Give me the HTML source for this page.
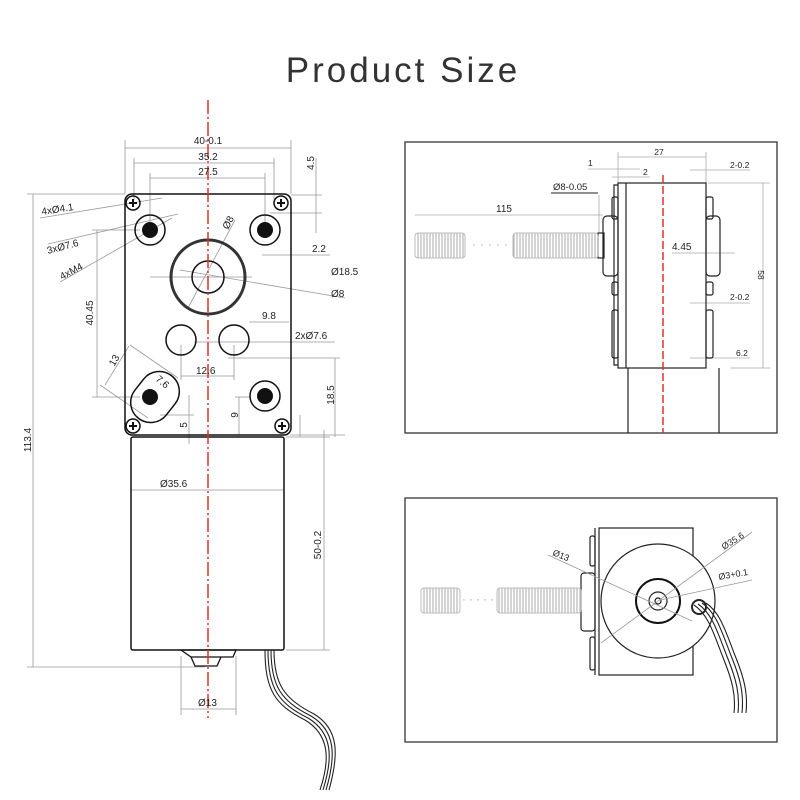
<!DOCTYPE html>
<html><head><meta charset="utf-8"><style>
html,body{margin:0;padding:0;background:#fff}
svg{display:block}
text{font-family:"Liberation Sans",sans-serif;fill:#222}
</style></head><body>
<svg width="800" height="800" viewBox="0 0 800 800" xmlns="http://www.w3.org/2000/svg">
<text x="403" y="82" font-size="35" text-anchor="middle" fill="#333" style="fill:#333;letter-spacing:3px">Product Size</text>

<!-- LEFT DRAWING -->
<g stroke="#999" stroke-width="0.8" fill="none">
  <line x1="125" y1="148" x2="291" y2="148"/><line x1="125" y1="140" x2="125" y2="194"/><line x1="291" y1="140" x2="291" y2="194"/>
  <line x1="134" y1="163" x2="274" y2="163"/><line x1="134" y1="158" x2="134" y2="200"/><line x1="274" y1="158" x2="274" y2="200"/>
  <line x1="150" y1="178" x2="265" y2="178"/><line x1="150" y1="173" x2="150" y2="225"/><line x1="265" y1="173" x2="265" y2="225"/>
  <line x1="33" y1="194" x2="33" y2="667"/><line x1="27" y1="194" x2="125" y2="194"/><line x1="27" y1="667" x2="205" y2="667"/>
  <line x1="97" y1="230" x2="97" y2="397"/><line x1="92" y1="230" x2="140" y2="230"/><line x1="92" y1="397" x2="140" y2="397"/>
  <line x1="316" y1="158" x2="316" y2="233"/><line x1="291" y1="195" x2="322" y2="195"/><line x1="270" y1="213" x2="322" y2="213"/>
  <line x1="262" y1="255" x2="330" y2="255"/>
  <line x1="150" y1="277" x2="252" y2="277"/>
  <line x1="180" y1="270" x2="345" y2="298"/>
  <line x1="188" y1="308" x2="235" y2="220"/>
  <line x1="249" y1="322" x2="289" y2="322"/>
  <line x1="194" y1="342" x2="335" y2="342"/>
  <line x1="181" y1="345" x2="181" y2="380"/><line x1="234" y1="345" x2="234" y2="380"/>
  <line x1="181" y1="376" x2="234" y2="376"/>
  <line x1="228" y1="358" x2="340" y2="358"/>
  <line x1="335" y1="358" x2="335" y2="437"/><line x1="290" y1="435" x2="345" y2="435"/>
  <line x1="239" y1="397" x2="239" y2="435"/><line x1="235" y1="397" x2="250" y2="397"/>
  <line x1="189" y1="395" x2="189" y2="444"/><line x1="160" y1="415" x2="194" y2="415"/>
  <line x1="300" y1="415" x2="300" y2="437"/><line x1="324" y1="430" x2="324" y2="437"/>
  <line x1="130" y1="345" x2="178" y2="378"/><line x1="100" y1="385" x2="148" y2="418"/>
  <line x1="129" y1="346" x2="105" y2="385"/>
  <line x1="40" y1="218" x2="162" y2="198"/>
  <line x1="48" y1="244" x2="178" y2="214"/>
  <line x1="60" y1="282" x2="172" y2="218"/>
  <line x1="132" y1="490" x2="284" y2="490"/>
  <line x1="324" y1="437" x2="324" y2="650"/><line x1="286" y1="650" x2="330" y2="650"/><line x1="286" y1="437" x2="330" y2="437"/>
  <line x1="181" y1="709" x2="236" y2="709"/><line x1="181" y1="656" x2="181" y2="715"/><line x1="236" y1="656" x2="236" y2="715"/>
</g>
<rect x="125" y="194" width="166" height="241" rx="7" fill="none" stroke="#111" stroke-width="1.5"/>
<g fill="none" stroke="#111" stroke-width="1.5">
  <circle cx="133" cy="203" r="7"/><circle cx="281" cy="203" r="7"/><circle cx="133" cy="426" r="7"/><circle cx="282" cy="426" r="7"/>
  <circle cx="150" cy="230" r="15"/><circle cx="265" cy="230" r="15"/><circle cx="265" cy="396" r="15"/>
  <circle cx="181" cy="340" r="15"/><circle cx="234" cy="340" r="15"/>
  <circle cx="208" cy="277" r="16"/>
  <rect x="135" y="370" width="40" height="54" rx="20" transform="rotate(38 155 397)"/>
</g>
<circle cx="208" cy="277" r="37" fill="none" stroke="#333" stroke-width="3"/>
<g fill="#111">
  <circle cx="150" cy="230" r="8"/><circle cx="265" cy="230" r="8"/><circle cx="265" cy="396" r="8"/><circle cx="150" cy="397" r="8"/>
</g>
<g stroke="#111" stroke-width="2">
  <path d="M129 203h8M133 199v8M277 203h8M281 199v8M129 426h8M133 422v8M278 426h8M282 422v8"/>
</g>
<rect x="131" y="437" width="153" height="213" rx="2" fill="none" stroke="#111" stroke-width="1.5"/>
<path d="M181 650 h55 l-3 7 h-42 z M191 657 l4 9 h22 l4 -9" fill="none" stroke="#111" stroke-width="1.3"/>
<g fill="none" stroke="#222" stroke-width="1.1">
  <path d="M265 650 c0 40 10 55 40 70 c25 15 25 40 15 70"/>
  <path d="M268 650 c0 38 10 53 40 68 c25 15 25 40 15 72"/>
  <path d="M271 650 c0 36 10 51 40 66 c25 15 25 40 15 74"/>
  <path d="M274 650 c0 34 10 49 40 64 c25 15 25 40 15 76"/>
</g>
<line x1="208" y1="100" x2="208" y2="718" stroke="#e0302a" stroke-width="1.5" stroke-dasharray="14 3 2 3"/>
<g font-size="10">
  <text x="208" y="144" text-anchor="middle">40-0.1</text>
  <text x="208" y="160" text-anchor="middle">35.2</text>
  <text x="208" y="175" text-anchor="middle">27.5</text>
  <text x="42" y="215" transform="rotate(-9 42 215)">4xØ4.1</text>
  <text x="48" y="254" transform="rotate(-15 48 254)">3xØ7.6</text>
  <text x="62" y="280" transform="rotate(-28 62 280)">4xM4</text>
  <text x="228" y="230" transform="rotate(-62 228 230)">Ø8</text>
  <text x="312" y="252">2.2</text>
  <text x="331" y="275">Ø18.5</text>
  <text x="331" y="297">Ø8</text>
  <text x="262" y="319">9.8</text>
  <text x="295" y="339">2xØ7.6</text>
  <text x="196" y="374">12.6</text>
  <text x="93" y="313" transform="rotate(-90 93 313)" text-anchor="middle">40.45</text>
  <text x="117" y="362" transform="rotate(-60 117 362)" text-anchor="middle">13</text>
  <text x="155" y="380" transform="rotate(40 155 380)">7.6</text>
  <text x="187" y="425" transform="rotate(-90 187 425)" text-anchor="middle">5</text>
  <text x="238" y="415" transform="rotate(-90 238 415)" text-anchor="middle">9</text>
  <text x="334" y="395" transform="rotate(-90 334 395)" text-anchor="middle">18.5</text>
  <text x="314" y="163" transform="rotate(-90 314 163)" text-anchor="middle">4.5</text>
  <text x="31" y="440" transform="rotate(-90 31 440)" text-anchor="middle">113.4</text>
  <text x="160" y="487">Ø35.6</text>
  <text x="321" y="545" transform="rotate(-90 321 545)" text-anchor="middle">50-0.2</text>
  <text x="198" y="706">Ø13</text>
</g>

<rect x="405" y="142" width="372" height="291" fill="none" stroke="#333" stroke-width="1.3"/>
<g stroke="#aaa" stroke-width="0.8" fill="none">
  <line x1="618" y1="157" x2="706" y2="157"/><line x1="618" y1="152" x2="618" y2="183"/><line x1="706" y1="152" x2="706" y2="183"/>
  <line x1="588" y1="169" x2="640" y2="169"/><line x1="612" y1="177" x2="650" y2="177"/>
  <line x1="690" y1="170" x2="750" y2="170"/><line x1="690" y1="303" x2="750" y2="303"/><line x1="690" y1="358" x2="750" y2="358"/>
  <line x1="708" y1="183" x2="770" y2="183"/><line x1="730" y1="368" x2="770" y2="368"/>
  <line x1="763" y1="183" x2="763" y2="368"/>
  <line x1="415" y1="215" x2="603" y2="215"/><line x1="599" y1="195" x2="599" y2="232"/>
  <line x1="672" y1="253" x2="735" y2="253"/>
</g>
<line x1="551" y1="193" x2="598" y2="193" stroke="#222" stroke-width="1"/>
<g fill="none" stroke="#222" stroke-width="1.2">
  <rect x="618" y="183" width="88" height="185"/>
  <line x1="626" y1="183" x2="626" y2="368"/>
  <path d="M618 185 h-4 v180 h4"/>
  <rect x="612" y="197" width="6" height="22" rx="2"/>
  <rect x="603" y="216" width="15" height="60" rx="4"/>
  <rect x="612" y="282" width="6" height="13" rx="2"/>
  <rect x="612" y="310" width="6" height="48" rx="2"/>
  <rect x="706" y="197" width="7" height="22" rx="2"/>
  <rect x="706" y="216" width="14" height="60" rx="4"/>
  <rect x="706" y="282" width="7" height="13" rx="2"/>
  <rect x="706" y="310" width="7" height="48" rx="2"/>
  <path d="M628 368 v65 M719 368 v65"/>
  <rect x="598" y="233" width="6" height="25"/>
</g>
<defs>
  <pattern id="thr" width="3" height="10" patternUnits="userSpaceOnUse"><line x1="1" y1="0" x2="1" y2="10" stroke="#aaa" stroke-width="1"/></pattern>
</defs>
<rect x="415" y="233" width="50" height="25" rx="3" fill="url(#thr)" stroke="#bbb"/>
<rect x="513" y="233" width="85" height="25" rx="3" fill="url(#thr)" stroke="#bbb"/>
<text x="472" y="248" font-size="12" fill="#aaa" style="fill:#aaa;letter-spacing:4px">·····</text>
<line x1="663" y1="175" x2="663" y2="433" stroke="#e0302a" stroke-width="1.5" stroke-dasharray="8 3"/>
<g font-size="8.5">
  <text x="659" y="155" text-anchor="middle">27</text>
  <text x="588" y="166">1</text>
  <text x="643" y="175">2</text>
  <text x="553" y="190" font-size="9.5">Ø8-0.05</text>
  <text x="496" y="212" font-size="10">115</text>
  <text x="672" y="250" font-size="10">4.45</text>
  <text x="730" y="168">2-0.2</text>
  <text x="730" y="300">2-0.2</text>
  <text x="736" y="356">6.2</text>
  <text x="758" y="275" transform="rotate(90 758 275)" text-anchor="middle">58</text>
</g>

<rect x="405" y="498" width="372" height="244" fill="none" stroke="#333" stroke-width="1.3"/>
<g fill="none" stroke="#222" stroke-width="1.2">
  <rect x="599" y="528" width="94" height="147"/>
  <line x1="595" y1="528" x2="595" y2="675"/>
  <rect x="590" y="536" width="5" height="30" rx="2"/>
  <rect x="581" y="573" width="14" height="58" rx="3"/>
  <rect x="590" y="637" width="5" height="33" rx="2"/>
  <circle cx="658" cy="601" r="57" fill="#fff"/>
  <circle cx="658" cy="601" r="9"/>
</g>
<circle cx="658" cy="601" r="22" fill="none" stroke="#111" stroke-width="2"/>
<circle cx="658" cy="601" r="3" fill="none" stroke="#111" stroke-width="1.2"/>
<g stroke="#999" stroke-width="0.8" fill="none">
  <line x1="548" y1="555" x2="692" y2="621"/>
  <line x1="601" y1="643" x2="752" y2="532"/>
  <line x1="660" y1="600" x2="752" y2="580"/>
</g>
<rect x="421" y="588" width="39" height="25" rx="3" fill="url(#thr)" stroke="#bbb"/>
<rect x="497" y="588" width="84" height="25" rx="3" fill="url(#thr)" stroke="#bbb"/>
<text x="462" y="603" font-size="12" style="fill:#aaa;letter-spacing:3px">·····</text>
<g fill="none" stroke="#222" stroke-width="1.1">
  <circle cx="699" cy="607" r="7" stroke-width="2"/>
  <path d="M694 605 c15 10 20 30 30 55 c8 20 12 35 10 53"/>
  <path d="M698 604 c15 10 20 30 30 55 c8 20 12 35 10 54"/>
  <path d="M702 603 c15 10 20 30 30 55 c8 20 12 35 10 55"/>
  <path d="M706 603 c15 10 20 30 30 55 c8 20 12 35 10 55"/>
</g>
<g font-size="9">
  <text x="552" y="555" transform="rotate(22 552 555)">Ø13</text>
  <text x="724" y="550" transform="rotate(-32 724 550)">Ø35.6</text>
  <text x="719" y="580" transform="rotate(-10 719 580)">Ø3+0.1</text>
</g>
</svg>
</body></html>
